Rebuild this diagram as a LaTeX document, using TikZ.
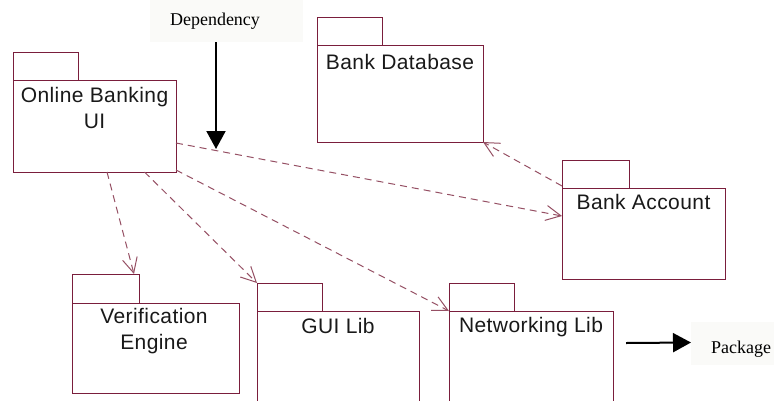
\documentclass[tikz,border=0pt]{standalone}
\usepackage{fontspec}
\setmainfont{Liberation Serif}
\newfontfamily\pkgfont[LetterSpace=2]{Liberation Sans}
\usetikzlibrary{arrows.meta}

\definecolor{pkgline}{RGB}{122,30,60}
\definecolor{depline}{RGB}{150,80,100}
\definecolor{notebg}{RGB}{250,250,248}

\begin{document}
\begin{tikzpicture}[x=1pt,y=-1pt,
  pkgbody/.style={draw=pkgline, line width=1pt, fill=white, inner sep=0pt, outer sep=0pt, anchor=north west},
  pkgtab/.style={draw=pkgline, line width=1pt, fill=white, inner sep=0pt, outer sep=0pt,
    minimum width=65pt, minimum height=28pt, anchor=south west},
  pkgtext/.style={font=\pkgfont\fontsize{21}{26}\selectfont, text=black!90, align=center, anchor=base, inner sep=0pt},
  notebox/.style={fill=notebg, draw=none, inner sep=0pt, outer sep=0pt, anchor=north west},
  notetext/.style={font=\fontsize{18}{22}\selectfont, anchor=base, inner sep=0pt},
  dep/.style={draw=depline, line width=1pt, dash pattern=on 7pt off 5pt,
    -{Straight Barb[length=15pt,width=15pt,line width=1pt]}},
  pointer/.style={draw=black, line width=2pt, -{Triangle[length=18pt,width=19pt]}}]

\clip (0,0) rectangle (774,400);
\fill[white] (0,0) rectangle (774,400);

% explanatory notes
\node[notebox, minimum width=153pt, minimum height=42pt] (depnote) at (150,0) {};
\node[notetext] (deptext) at (215,25) {Dependency};
\node[notebox, minimum width=83pt, minimum height=43pt] (pkgnote) at (691,322) {};
\node[notetext] (pkgtext) at (741,353) {Package};

% packages: body, tab and name (two-line names sit on their last baseline)
\node[pkgbody, minimum width=163pt, minimum height=92pt] (ui) at (13,80) {};
\node[pkgtab] (uitab) at (ui.north west) {};
\node[pkgtext] (uiname) at (94.5,128) {Online Banking\\UI};

\node[pkgbody, minimum width=166pt, minimum height=97pt] (db) at (317,45) {};
\node[pkgtab] (dbtab) at (db.north west) {};
\node[pkgtext] (dbname) at (400,69) {Bank Database};

\node[pkgbody, minimum width=163pt, minimum height=91pt] (acct) at (562,188) {};
\node[pkgtab, minimum width=67pt] (accttab) at (acct.north west) {};
\node[pkgtext] (acctname) at (643.5,209) {Bank Account};

\node[pkgbody, minimum width=167pt, minimum height=90pt] (ve) at (72,303) {};
\node[pkgtab, minimum width=67pt, minimum height=29pt] (vetab) at (ve.north west) {};
\node[pkgtext] (vename) at (154,349) {Verification\\Engine};

\node[pkgbody, minimum width=162pt, minimum height=110pt] (gui) at (257,311) {};
\node[pkgtab] (guitab) at (gui.north west) {};
\node[pkgtext] (guiname) at (338,333) {GUI Lib};

\node[pkgbody, minimum width=164pt, minimum height=110pt] (net) at (449,311) {};
\node[pkgtab] (nettab) at (net.north west) {};
\node[pkgtext] (netname) at (531,332) {Networking Lib};

% dependencies
\draw[dep] ([yshift=-17pt]ui.east) -- ([yshift=17.5pt]acct.west);
\draw[dep] ([yshift=2pt]acct.north west) -- (db.south east);
\draw[dep] ([xshift=12.5pt]ui.south) -- ([xshift=-5pt]vetab.north east);
\draw[dep] ([xshift=50pt]ui.south) -- (guitab.north west);
\draw[dep] ([yshift=2pt]ui.south east) -- (net.north west);

% legend pointers
\coordinate (deptip) at (216,149);
\draw[pointer] ([xshift=-10.5pt]depnote.south) -- (deptip);
\coordinate (pkgtail) at (626,343);
\draw[pointer] (pkgtail) -- ([yshift=1pt]pkgnote.west);
\end{tikzpicture}
\end{document}
